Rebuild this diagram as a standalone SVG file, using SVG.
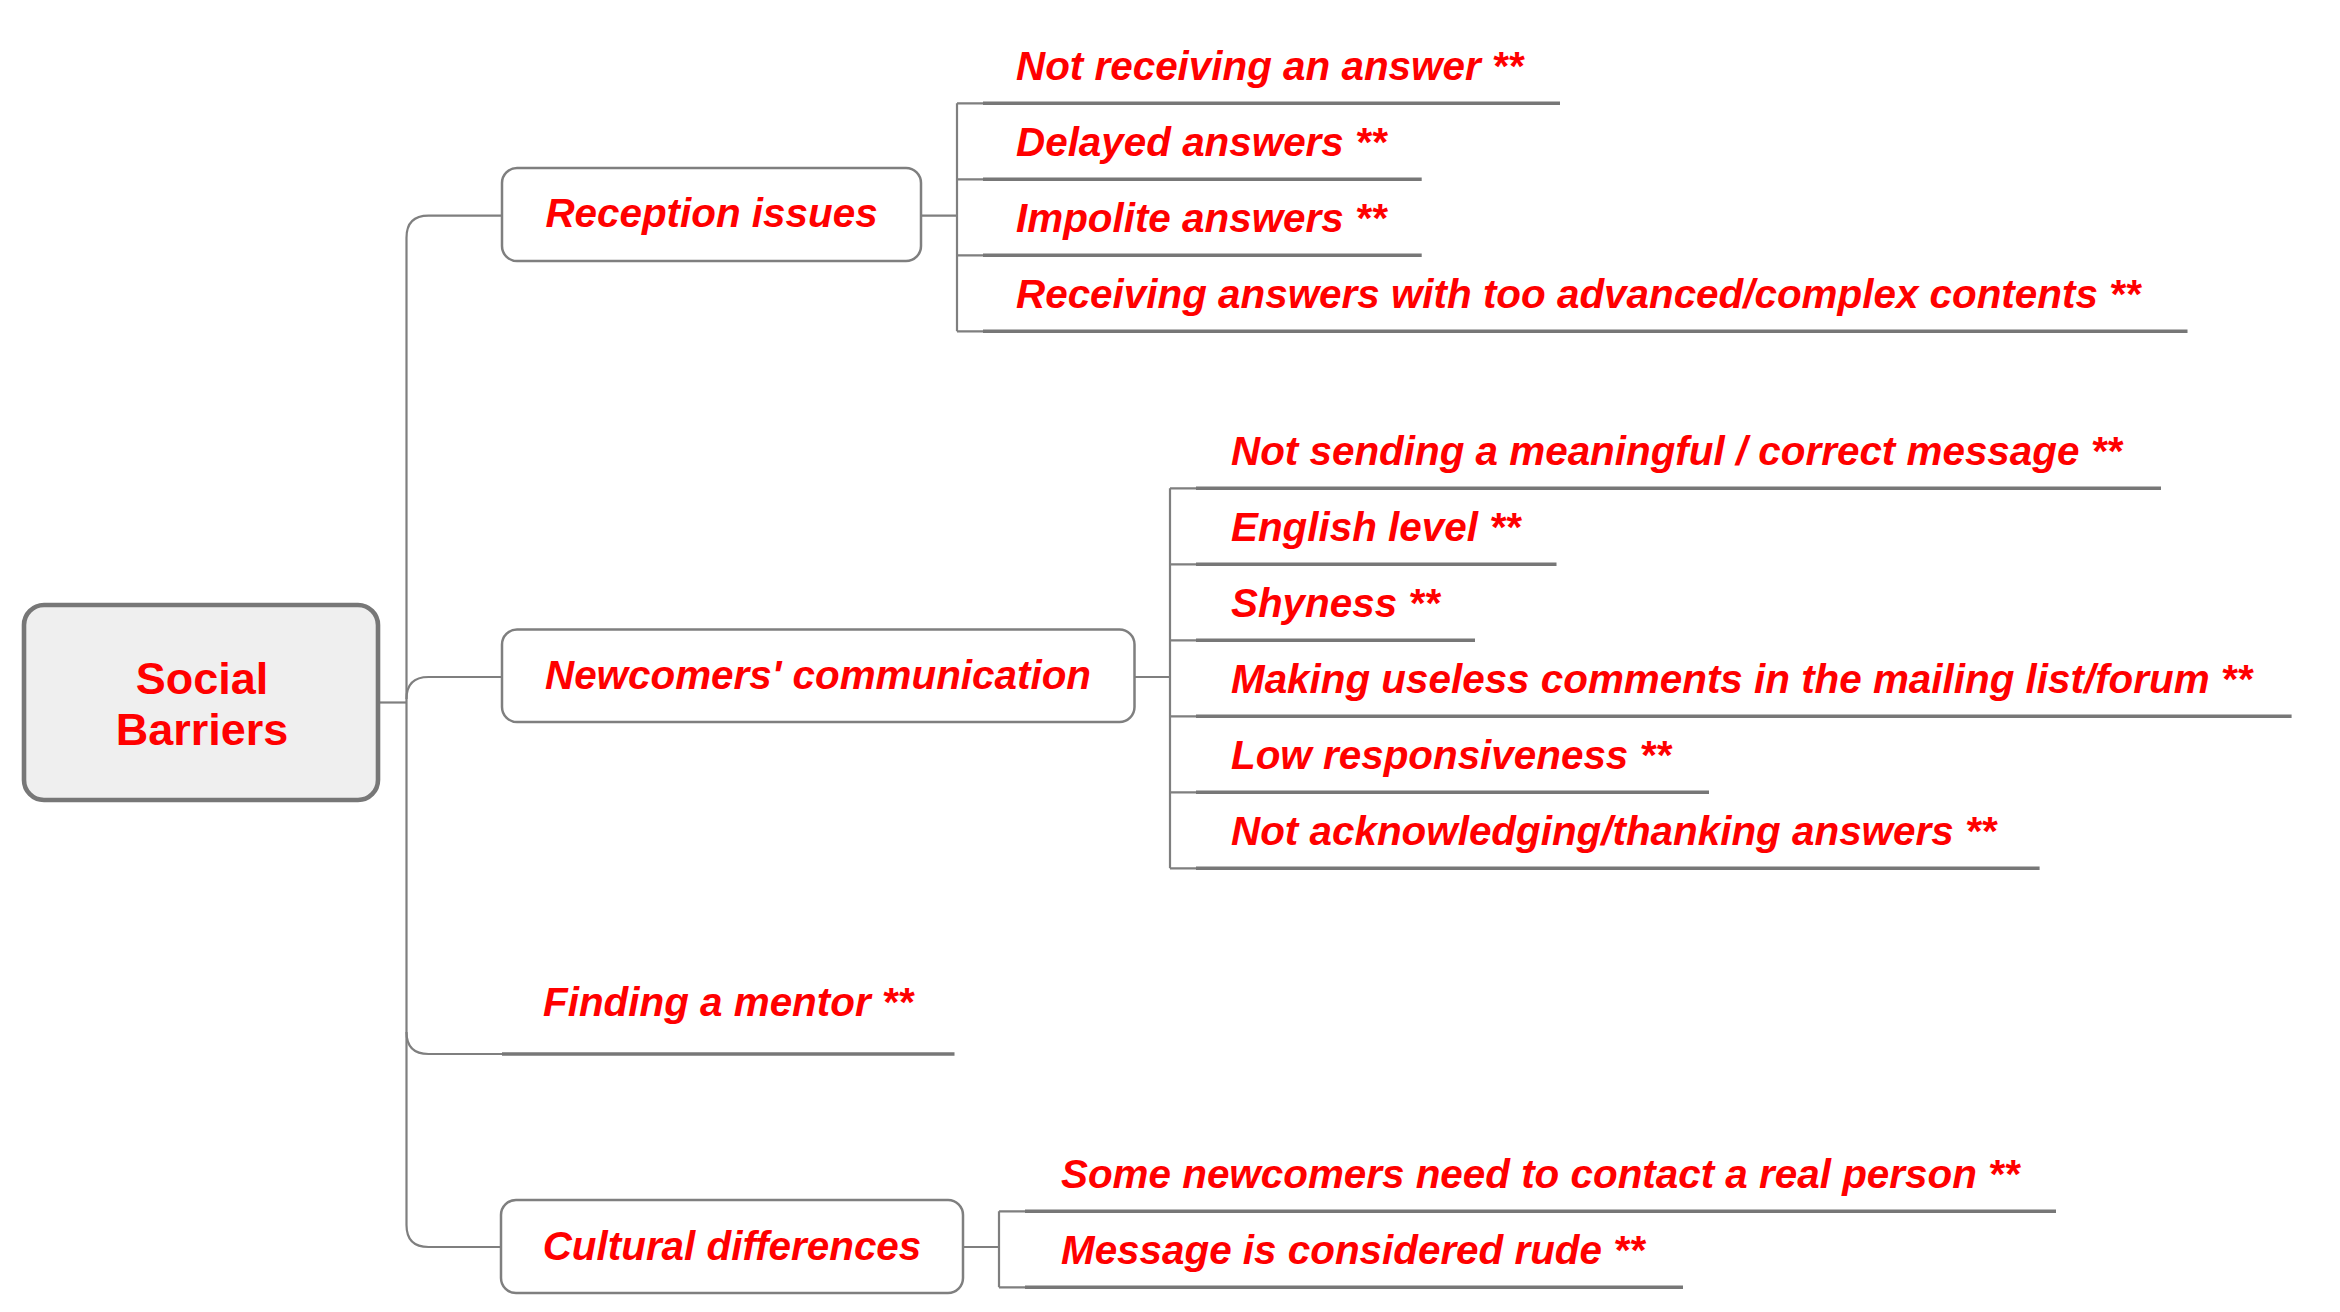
<svg xmlns="http://www.w3.org/2000/svg" width="2340" height="1312" viewBox="0 0 2340 1312">
<style>
.conn{fill:none;stroke:#7f7f7f;stroke-width:2.2}
.ul{fill:none;stroke:#777777;stroke-width:3.4}
.box{fill:#ffffff;stroke:#7f7f7f;stroke-width:2.5}
.root{fill:#efefef;stroke:#777777;stroke-width:4.6}
text{font-family:"Liberation Sans",Arial,Helvetica,sans-serif;font-weight:bold;fill:#ff0000}
.t{font-size:40.4px;font-style:italic}
.c{text-anchor:middle}
.rt{font-size:45px;text-anchor:middle}
</style>
<rect width="2340" height="1312" fill="#ffffff"/>

<g id="connectors">
  <path class="conn" d="M380 702.5 H406.5"/>
  <path class="conn" d="M502 215.7 H428.5 Q406.5 215.7 406.5 237.7 V1225 Q406.5 1247 428.5 1247 H501"/>
  <path class="conn" d="M406.5 699 Q406.5 677 428.5 677 H502"/>
  <path class="conn" d="M406.5 1032 Q406.5 1054 428.5 1054 H502"/>
  <path class="conn" d="M921 215.7 H957 M957 103.3 V331.3 M957 103.3 H983 M957 179.3 H983 M957 255.3 H983 M957 331.3 H983"/>
  <path class="conn" d="M1134.5 677 H1170 M1170 488.3 V868.3 M1170 488.3 H1196 M1170 564.3 H1196 M1170 640.3 H1196 M1170 716.3 H1196 M1170 792.3 H1196 M1170 868.3 H1196"/>
  <path class="conn" d="M963 1247 H999 M999 1211.3 V1287.3 M999 1211.3 H1025 M999 1287.3 H1025"/>
</g>

<g id="root">
  <rect class="root" x="24" y="605" width="354" height="195" rx="20" ry="20"/>
  <text class="rt" x="202" y="694.3">Social</text>
  <text class="rt" x="202" y="745.3">Barriers</text>
</g>

<g id="reception-issues">
  <rect class="box" x="502" y="168" width="419" height="93" rx="15" ry="15"/>
  <text class="t c" x="711.5" y="226.5">Reception issues</text>
</g>
<g id="not-receiving-answer">
  <text class="t" x="1016" y="80">Not receiving an answer **</text>
  <path class="ul" d="M983 103.3 H1560"/>
</g>
<g id="delayed-answers">
  <text class="t" x="1016" y="156">Delayed answers **</text>
  <path class="ul" d="M983 179.3 H1421.7"/>
</g>
<g id="impolite-answers">
  <text class="t" x="1016" y="232">Impolite answers **</text>
  <path class="ul" d="M983 255.3 H1421.7"/>
</g>
<g id="too-advanced-answers">
  <text class="t" x="1016" y="308">Receiving answers with too advanced/complex contents **</text>
  <path class="ul" d="M983 331.3 H2187.5"/>
</g>

<g id="newcomers-communication">
  <rect class="box" x="502" y="629.5" width="632.5" height="92.5" rx="15" ry="15"/>
  <text class="t c" x="818" y="689">Newcomers' communication</text>
</g>
<g id="not-sending-meaningful">
  <text class="t" x="1231" y="465">Not sending a meaningful / correct message **</text>
  <path class="ul" d="M1196 488.3 H2161"/>
</g>
<g id="english-level">
  <text class="t" x="1231" y="541">English level **</text>
  <path class="ul" d="M1196 564.3 H1556.5"/>
</g>
<g id="shyness">
  <text class="t" x="1231" y="617">Shyness **</text>
  <path class="ul" d="M1196 640.3 H1475"/>
</g>
<g id="useless-comments">
  <text class="t" x="1231" y="693">Making useless comments in the mailing list/forum **</text>
  <path class="ul" d="M1196 716.3 H2291.6"/>
</g>
<g id="low-responsiveness">
  <text class="t" x="1231" y="769">Low responsiveness **</text>
  <path class="ul" d="M1196 792.3 H1709"/>
</g>
<g id="not-acknowledging">
  <text class="t" x="1231" y="845">Not acknowledging/thanking answers **</text>
  <path class="ul" d="M1196 868.3 H2039.6"/>
</g>

<g id="finding-mentor">
  <text class="t" x="543" y="1016">Finding a mentor **</text>
  <path class="ul" d="M502 1054 H954.5"/>
</g>

<g id="cultural-differences">
  <rect class="box" x="501" y="1200" width="462" height="93" rx="15" ry="15"/>
  <text class="t c" x="732" y="1260">Cultural differences</text>
</g>
<g id="contact-real-person">
  <text class="t" x="1061" y="1187.5">Some newcomers need to contact a real person **</text>
  <path class="ul" d="M1025 1211.3 H2056"/>
</g>
<g id="message-rude">
  <text class="t" x="1061" y="1263.5">Message is considered rude **</text>
  <path class="ul" d="M1025 1287.3 H1683"/>
</g>
</svg>
